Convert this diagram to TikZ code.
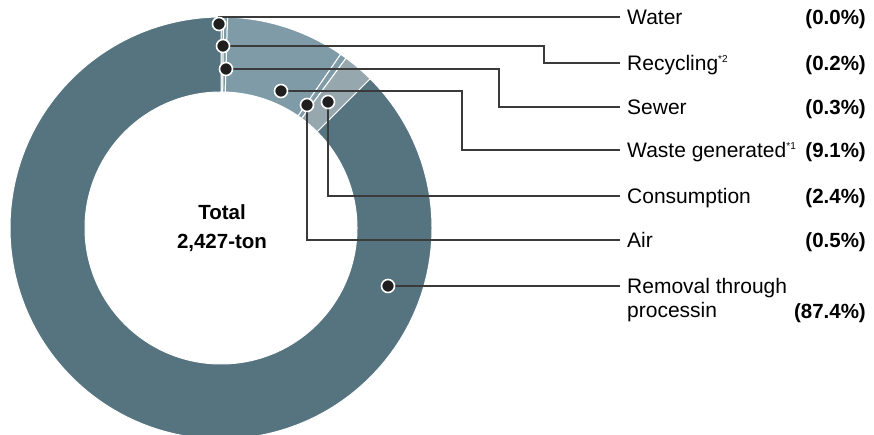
\documentclass[tikz,border=0pt]{standalone}
\usepackage{fontspec}
\setmainfont{Liberation Sans}
\definecolor{removal}{HTML}{557480}
\definecolor{waste}{HTML}{7F9BA8}
\definecolor{consum}{HTML}{97A7AE}
\definecolor{leader}{HTML}{3A3A3A}
\tikzset{
  dot/.style={circle,fill=black!88,draw=white,line width=1.6pt,inner sep=0pt,minimum size=13pt},
  lab/.style={anchor=west,inner xsep=7pt,inner ysep=0pt,font=\fontsize{21}{24}\selectfont,text height=15pt,text depth=0pt},
  pct/.style={anchor=east,inner sep=0pt,font=\fontsize{20.5}{24}\selectfont\bfseries,text height=15pt,text depth=0pt},
  leadline/.style={draw=leader,line width=1.1pt}
}
\newcommand{\supnote}[1]{\textsuperscript{\fontsize{10}{10}\selectfont *#1}}
\begin{document}
\begin{tikzpicture}[x=1pt,y=1pt]
    \useasboundingbox (0,0) rectangle (874,435);
    \begin{scope}[shift={(221,207)}]
    \foreach \a/\b/\c in {90/89.28/waste,89.28/88.2/waste,88.2/55.44/waste,55.44/53.64/waste,53.64/45/consum,45/-270/removal}
        \filldraw[fill=\c,draw=white,line width=1pt] (\a:211) arc (\a:\b:211) -- (\b:136) arc (\b:\a:136) -- cycle;
    \end{scope}
    \node[font=\fontsize{20.5}{29}\selectfont\bfseries,align=center] (total) at (222,207) {Total\\2,427-ton};
    \coordinate (w) at (219,411);
    \coordinate (r) at (223,389);
    \coordinate (s) at (226,366);
    \coordinate (g) at (281,344);
    \coordinate (a) at (307,330);
    \coordinate (c) at (328,333);
    \coordinate (m) at (388,149);
    \node[lab] (labW) at (620,418) {Water};
    \node[lab] (labR) at (620,372) {Recycling\supnote{2}};
    \node[lab] (labS) at (620,328) {Sewer};
    \node[lab] (labG) at (620,285) {Waste generated\supnote{1}};
    \node[lab] (labC) at (620,239) {Consumption};
    \node[lab] (labA) at (620,195) {Air};
    \node[lab,anchor=north west,align=left,text height=,text depth=] (labM) at (620,156.5) {Removal through\\processin};
    \node[pct] (pW) at (866,418) {(0.0\%)};
    \node[pct] (pR) at (866,372) {(0.2\%)};
    \node[pct] (pS) at (866,328) {(0.3\%)};
    \node[pct] (pG) at (866,285) {(9.1\%)};
    \node[pct] (pC) at (866,239) {(2.4\%)};
    \node[pct] (pA) at (866,195) {(0.5\%)};
    \node[pct] (pM) at (866,124) {(87.4\%)};
    \draw[leadline] (w) |- (labW.west);
    \draw[leadline] (r) -- (544,389) |- (labR.west);
    \draw[leadline] (s) -- (499,366) |- (labS.west);
    \draw[leadline] (g) -- (462,344) |- (labG.west);
    \draw[leadline] (c) |- (labC.west);
    \draw[leadline] (a) |- (labA.west);
    \draw[leadline] (m) -- (m -| labM.west);
    \foreach \p in {w,r,s,g,a,c,m}
        \node[dot] (dot\p) at (\p) {};
\end{tikzpicture}
\end{document}
